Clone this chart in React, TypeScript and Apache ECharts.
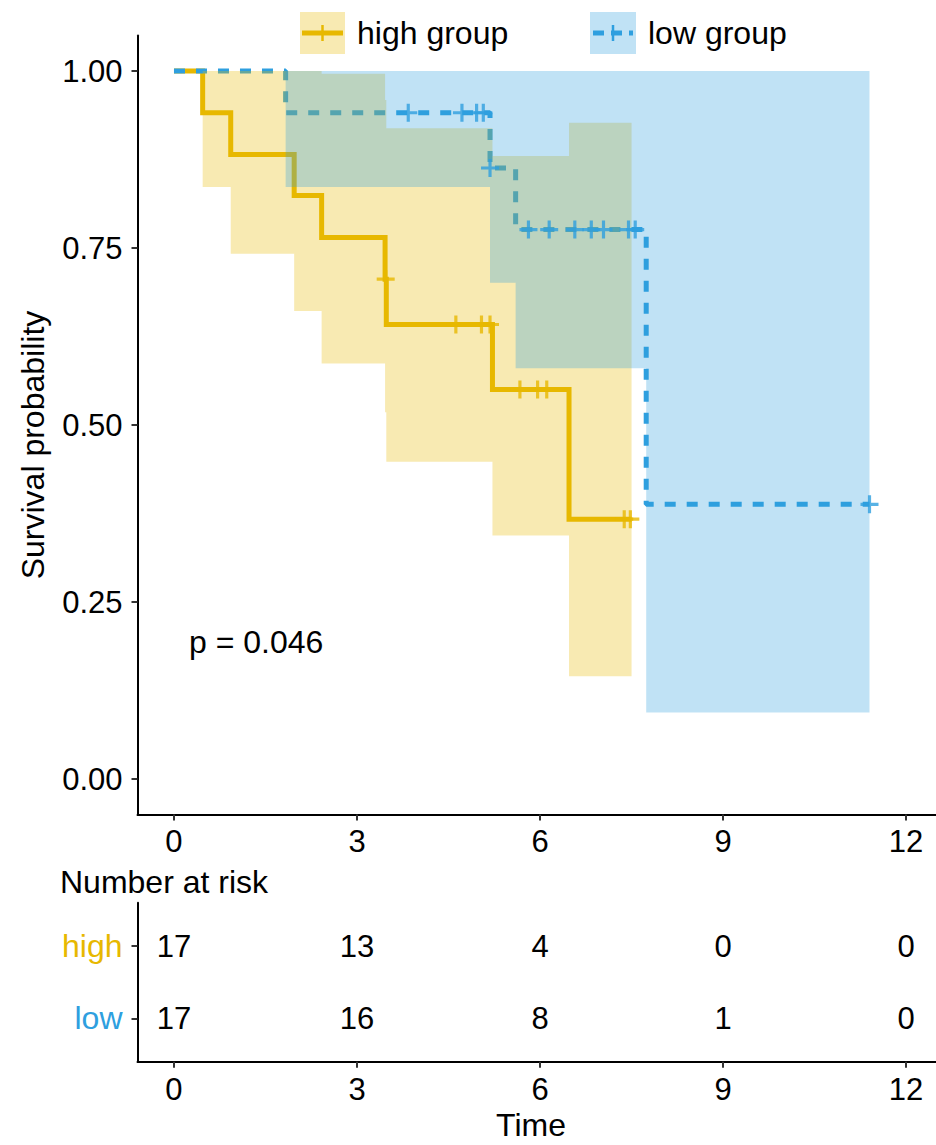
import React, { useEffect, useRef } from "react";
import * as echarts from "echarts";

// ---- data ----
const highTimes = [0, 0.47, 0.93, 1.97, 2.42, 3.46, 3.48, 5.22, 6.475, 7.5];
const highSurv = [1, 0.941, 0.882, 0.824, 0.765, 0.706, 0.642, 0.55, 0.367, 0.367];
const highLower = [1, 0.836, 0.742, 0.661, 0.587, 0.518, 0.448, 0.344, 0.145, 0.145];
const highUpper = [1, 1, 1, 1, 0.996, 0.959, 0.919, 0.88, 0.927, 0.927];
const highCensorTimes = [3.47, 4.62, 5.04, 5.18, 5.67, 5.96, 6.11, 7.38, 7.48];
const highCensorSurv = [0.706, 0.642, 0.642, 0.642, 0.55, 0.55, 0.55, 0.367, 0.367];

const lowTimes = [0, 1.83, 5.18, 5.6, 7.74, 11.4];
const lowSurv = [1, 0.941, 0.863, 0.776, 0.388, 0.388];
const lowLower = [1, 0.836, 0.701, 0.58, 0.094, 0.094];
const lowUpper = [1, 1, 1, 1, 1, 1];
const lowCensorTimes = [3.84, 4.72, 4.96, 5.07, 5.18, 5.81, 6.15, 6.57, 6.84, 7.04, 7.45, 7.56, 11.4];
const lowCensorSurv = [0.941, 0.941, 0.941, 0.941, 0.863, 0.776, 0.776, 0.776, 0.776, 0.776, 0.776, 0.776, 0.388];

const timeTicks = [0, 3, 6, 9, 12];
const survTicks = [0, 0.25, 0.5, 0.75, 1];
const riskTimes = [0, 3, 6, 9, 12];
const riskHigh = [17, 13, 4, 0, 0];
const riskLow = [17, 16, 8, 1, 0];
const groupNames = ["high group", "low group"];
const pValueText = "p = 0.046";

const YELLOW = "#E7B800";
const BLUE = "#2E9FDF";
const FONT = "'Liberation Sans', Arial, Helvetica, sans-serif";
const FS = 31;
const FT = 32;
const PLUS = "path://M7,0H10V17H7Z M0,7H17V10H0Z";

function bandRenderer(color: string) {
  return (params: any, api: any) => {
    if (params.dataIndexInside !== 0) return null;
    const n = params.dataInsideLength;
    const top: number[][] = [];
    const bottom: number[][] = [];
    for (let i = 0; i < n; i++) {
      const t = api.value(0, i);
      const lo = api.value(1, i);
      const up = api.value(2, i);
      const tNext = i < n - 1 ? api.value(0, i + 1) : t;
      top.push(api.coord([t, up]), api.coord([tNext, up]));
      bottom.push(api.coord([t, lo]), api.coord([tNext, lo]));
    }
    return {
      type: "polygon",
      shape: { points: top.concat(bottom.reverse()) },
      style: { fill: color, opacity: 0.3 },
    };
  };
}

export default function App() {
  const ref = useRef<HTMLDivElement>(null);
  useEffect(() => {
    document.body.style.margin = "0";
    const chart = echarts.init(ref.current!, null, { renderer: "svg" });

    const highBand = highTimes.slice(1).map((t, i) => [t, highLower[i + 1], highUpper[i + 1]]);
    const lowBand = lowTimes.slice(1).map((t, i) => [t, lowLower[i + 1], lowUpper[i + 1]]);

    const axisLineStyle = { show: true, onZero: false, lineStyle: { color: "#000", width: 2 } };
    const tickStyle = { length: 6, lineStyle: { color: "#333", width: 2 } };
    const labelBase = { color: "#000", fontSize: FS, fontFamily: FONT };

    const xAxisCommon = (gridIndex: number) => ({
      type: "value",
      gridIndex,
      min: -0.598,
      max: 12.49,
      splitLine: { show: false },
      axisLine: axisLineStyle,
      axisTick: { show: true, customValues: timeTicks, ...tickStyle },
      axisLabel: { ...labelBase, customValues: timeTicks, margin: 12 },
    });

    const option: any = {
      animation: false,
      grid: [
        { left: 137.5, top: 35.6, right: 0, height: 778.8 },
        { left: 137.5, top: 902.7, right: 0, height: 159 },
      ],
      xAxis: [xAxisCommon(0), xAxisCommon(1)],
      yAxis: [
        {
          type: "value",
          gridIndex: 0,
          min: -0.05,
          max: 1.05,
          splitLine: { show: false },
          axisLine: axisLineStyle,
          axisTick: { show: true, customValues: survTicks, ...tickStyle },
          axisLabel: {
            ...labelBase,
            customValues: survTicks,
            margin: 15,
            formatter: (v: number) => v.toFixed(2),
          },
        },
        {
          type: "value",
          gridIndex: 1,
          min: 0.4,
          max: 2.6,
          splitLine: { show: false },
          axisLine: axisLineStyle,
          axisTick: { show: true, customValues: [1, 2], ...tickStyle },
          axisLabel: {
            ...labelBase,
            customValues: [1, 2],
            margin: 15,
            formatter: (v: number) => (v === 2 ? "{h|high}" : "{l|low}"),
            rich: {
              h: { color: YELLOW, fontSize: FT, fontFamily: FONT },
              l: { color: BLUE, fontSize: FT, fontFamily: FONT },
            },
          },
        },
      ],
      series: [
        {
          type: "line",
          name: groupNames[0],
          xAxisIndex: 0,
          yAxisIndex: 0,
          z: 1,
          step: "end",
          symbol: "none",
          data: highTimes.map((t, i) => [t, highSurv[i]]),
          lineStyle: { color: YELLOW, width: 5, join: "miter" },
        },
        {
          type: "line",
          name: groupNames[1],
          xAxisIndex: 0,
          yAxisIndex: 0,
          z: 1,
          step: "end",
          symbol: "none",
          data: lowTimes.map((t, i) => [t, lowSurv[i]]),
          lineStyle: { color: BLUE, width: 5, type: [11, 11], cap: "butt" },
        },
        {
          type: "custom",
          name: "high band",
          xAxisIndex: 0,
          yAxisIndex: 0,
          z: 2,
          silent: true,
          encode: { x: 0, y: [1, 2] },
          data: highBand,
          renderItem: bandRenderer(YELLOW),
        },
        {
          type: "custom",
          name: "low band",
          xAxisIndex: 0,
          yAxisIndex: 0,
          z: 2,
          silent: true,
          encode: { x: 0, y: [1, 2] },
          data: lowBand,
          renderItem: bandRenderer(BLUE),
        },
        {
          type: "scatter",
          xAxisIndex: 0,
          yAxisIndex: 0,
          z: 3,
          symbol: PLUS,
          symbolSize: 18,
          itemStyle: { color: YELLOW },
          data: highCensorTimes.map((t, i) => [t, highCensorSurv[i]]),
        },
        {
          type: "scatter",
          xAxisIndex: 0,
          yAxisIndex: 0,
          z: 3,
          symbol: PLUS,
          symbolSize: 18,
          itemStyle: { color: BLUE },
          data: lowCensorTimes.map((t, i) => [t, lowCensorSurv[i]]),
        },
        {
          type: "scatter",
          xAxisIndex: 1,
          yAxisIndex: 1,
          symbolSize: 1,
          itemStyle: { color: "#fff", opacity: 0 },
          label: {
            show: true,
            position: "inside",
            formatter: (p: any) => String(p.value[2]),
            color: "#000",
            opacity: 1,
            fontSize: FS,
            fontFamily: FONT,
            textBorderWidth: 0,
          },
          data: [
            ...riskTimes.map((t, i) => [t, 2, riskHigh[i]]),
            ...riskTimes.map((t, i) => [t, 1, riskLow[i]]),
          ],
        },
      ],
      graphic: [
        // legend
        { type: "rect", shape: { x: 300, y: 12, width: 45, height: 42 }, style: { fill: YELLOW, opacity: 0.3 } },
        { type: "line", shape: { x1: 302, y1: 33, x2: 343, y2: 33 }, style: { stroke: YELLOW, lineWidth: 5 } },
        { type: "line", shape: { x1: 322.5, y1: 25, x2: 322.5, y2: 41 }, style: { stroke: YELLOW, lineWidth: 2.5 } },
        { type: "text", x: 357, y: 33, style: { text: groupNames[0], fill: "#000", fontSize: FT, fontFamily: FONT, align: "left", verticalAlign: "middle" } },
        { type: "rect", shape: { x: 590, y: 12, width: 46, height: 42 }, style: { fill: BLUE, opacity: 0.3 } },
        { type: "line", shape: { x1: 593, y1: 33, x2: 633, y2: 33 }, style: { stroke: BLUE, lineWidth: 5, lineDash: [11, 7] } },
        { type: "line", shape: { x1: 613, y1: 25, x2: 613, y2: 41 }, style: { stroke: BLUE, lineWidth: 2.5 } },
        { type: "text", x: 648, y: 33, style: { text: groupNames[1], fill: "#000", fontSize: FT, fontFamily: FONT, align: "left", verticalAlign: "middle" } },
        // p-value
        { type: "text", x: 189, y: 642, style: { text: pValueText, fill: "#000", fontSize: FT, fontFamily: FONT, align: "left", verticalAlign: "middle" } },
        // axis titles
        { type: "text", x: 33, y: 445, rotation: Math.PI / 2, style: { text: "Survival probability", fill: "#000", fontSize: FT, fontFamily: FONT, align: "center", verticalAlign: "middle" } },
        { type: "text", x: 60, y: 882, style: { text: "Number at risk", fill: "#000", fontSize: FT, fontFamily: FONT, align: "left", verticalAlign: "middle" } },
        { type: "text", x: 531, y: 1125, style: { text: "Time", fill: "#000", fontSize: FT, fontFamily: FONT, align: "center", verticalAlign: "middle" } },
      ],
    };
    chart.setOption(option);
    return () => chart.dispose();
  }, []);
  return <div ref={ref} style={{ width: 936, height: 1145 }} />;
}
